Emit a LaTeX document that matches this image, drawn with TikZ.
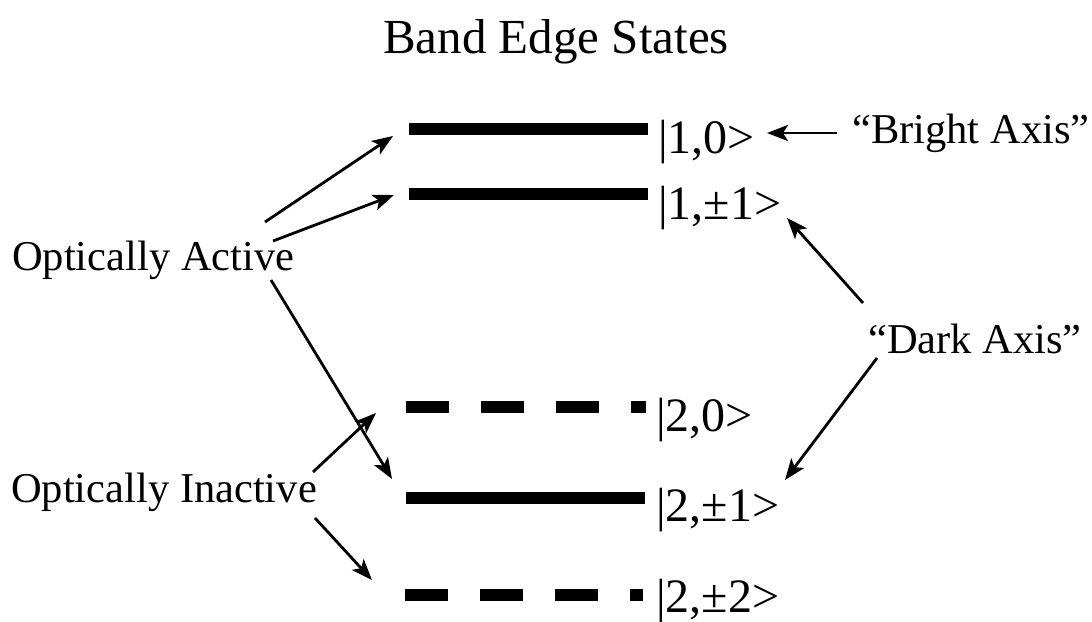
\documentclass[tikz,border=0pt]{standalone}
\usepackage{fontspec}
\setmainfont{Liberation Serif}
\usetikzlibrary{arrows.meta}
\begin{document}
\begin{tikzpicture}[x=1pt,y=-1pt,
  lvl/.style={line width=12pt},
  lvldash/.style={line width=12pt, dash pattern=on 43pt off 32pt},
  arr/.style={line width=2.8pt,-{Stealth[length=21pt,width=16pt,inset=5pt]}},
  lab/.style={anchor=base west, inner sep=0pt, font=\fontsize{48}{48}\selectfont},
  side/.style={anchor=base west, inner sep=0pt, font=\fontsize{42.5}{42.5}\selectfont},
]
\fill[white] (0,0) rectangle (1092,621);
\useasboundingbox (0,0) rectangle (1092,621);
\node[anchor=base, inner sep=0pt, font=\fontsize{49}{49}\selectfont] (title) at (556,53) {Band Edge States};

% levels
\draw[lvl] (409,129) -- (648,129);
\draw[lvl] (409,194) -- (648,194);
\draw[lvldash] (406,407) -- (646,407);
\draw[lvl] (406,498) -- (645,498);
\draw[lvldash] (405,595) -- (643,595);

% level labels
\node[lab] (s10) at (658,153) {|1,0>};
\node[lab] (s11) at (658,219) {|1,±1>};
\node[lab] (s20) at (656,431) {|2,0>};
\node[lab] (s21) at (656,521) {|2,±1>};
\node[lab] (s22) at (656,612) {|2,±2>};

% side texts
\node[side] (act) at (12,270) {Optically Active};
\node[side] (inact) at (11,502) {Optically Inactive};
\node[side] (bright) at (852,143) {“Bright Axis”};
\node[side] (dark) at (868,353) {“Dark Axis”};

% arrow end points
\coordinate (a1s) at (265,222); \coordinate (a1e) at (393,136);
\coordinate (a2s) at (273,241); \coordinate (a2e) at (394,195);
\coordinate (a3s) at (271,280); \coordinate (a3e) at (392,479);
\coordinate (i1s) at (313,472); \coordinate (i1e) at (376,413);
\coordinate (i2s) at (315,518); \coordinate (i2e) at (372,580);
\coordinate (bs) at (837,133); \coordinate (be) at (767,133);
\coordinate (d1s) at (863,303); \coordinate (d1e) at (787,218);
\coordinate (d2s) at (877,358); \coordinate (d2e) at (785,480);

\draw[arr] (a1s) -- (a1e);
\draw[arr] (a2s) -- (a2e);
\draw[arr] (a3s) -- (a3e);
\draw[arr] (i1s) -- (i1e);
\draw[arr] (i2s) -- (i2e);
\draw[arr] (bs) -- (be);
\draw[arr] (d1s) -- (d1e);
\draw[arr] (d2s) -- (d2e);
\end{tikzpicture}
\end{document}
